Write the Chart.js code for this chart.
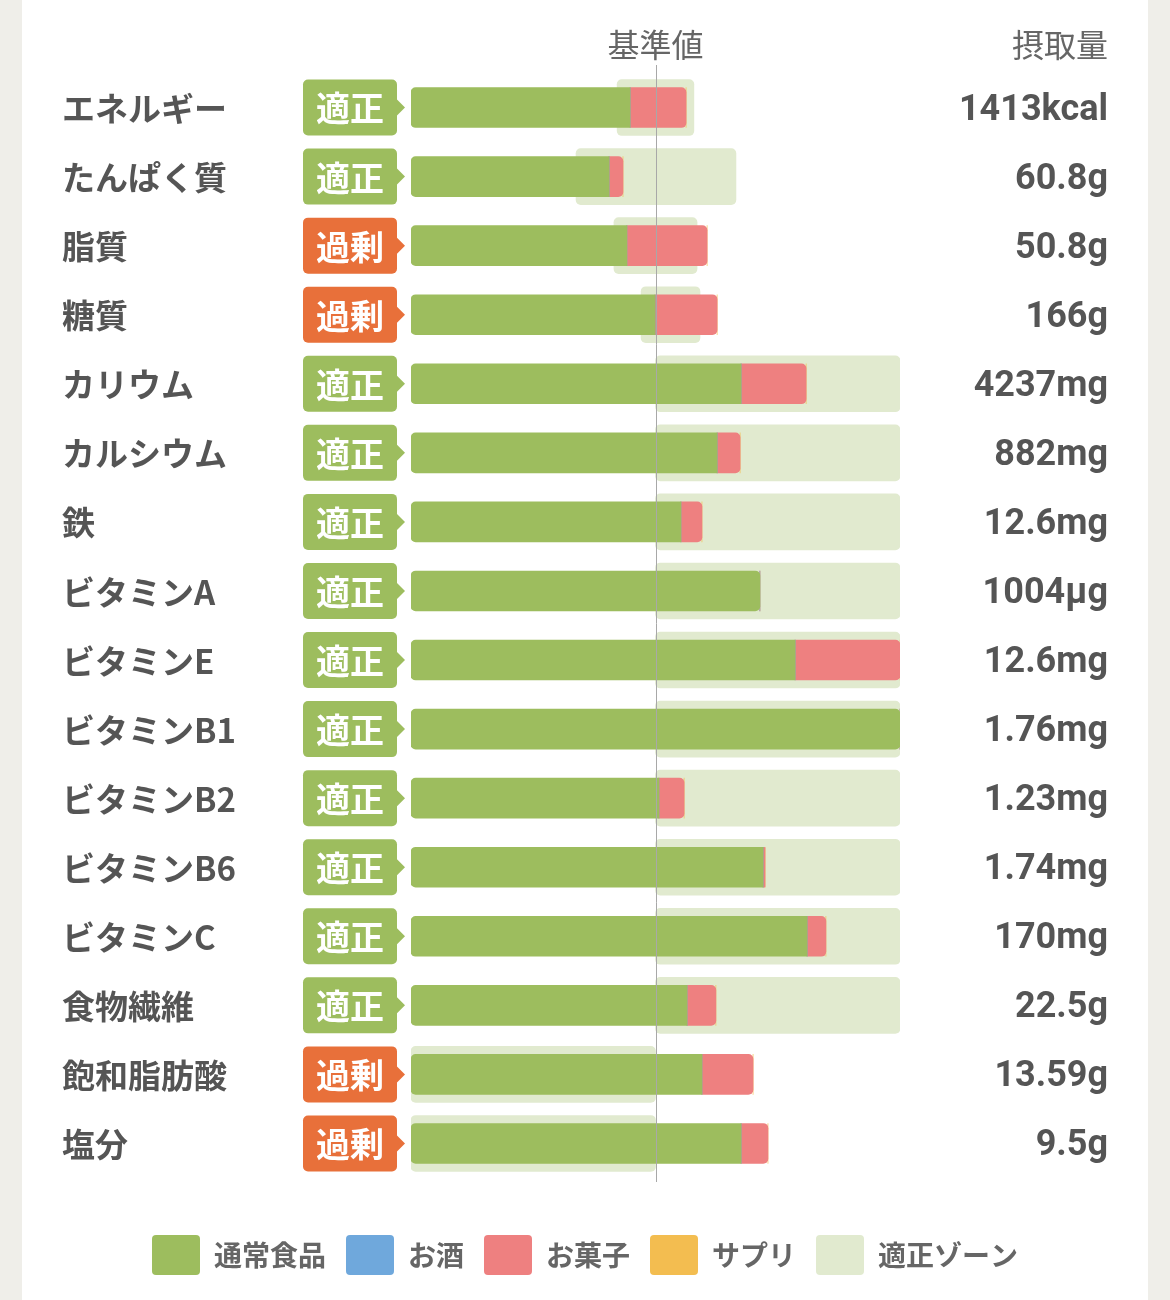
<!DOCTYPE html>
<html lang="ja">
<head>
<meta charset="utf-8">
<script src="https://cdn.jsdelivr.net/npm/chart.js@4.4.1/dist/chart.umd.min.js"></script>
<style>
html, body { margin: 0; padding: 0; background: #efeee9; }
#card { position: absolute; left: 22px; top: 0; width: 1126px; height: 1300px; background: #fff; }
#wrap { position: absolute; left: 0; top: 0; width: 1170px; height: 1300px; }
</style>
</head>
<body>
<div id="card"></div>
<div id="wrap"><canvas id="nutritionChart" width="1170" height="1300"></canvas></div>
<script>
const categories = ['エネルギー', 'たんぱく質', '脂質', '糖質', 'カリウム', 'カルシウム', '鉄', 'ビタミンA',
    'ビタミンE', 'ビタミンB1', 'ビタミンB2', 'ビタミンB6', 'ビタミンC', '食物繊維', '飽和脂肪酸', '塩分'];
const status = ['適正', '適正', '過剰', '過剰', '適正', '適正', '適正', '適正',
    '適正', '適正', '適正', '適正', '適正', '適正', '過剰', '過剰'];
const intake = ['1413kcal', '60.8g', '50.8g', '166g', '4237mg', '882mg', '12.6mg', '1004µg',
    '12.6mg', '1.76mg', '1.23mg', '1.74mg', '170mg', '22.5g', '13.59g', '9.5g'];

// % of the reference value (基準値 = 100)
const normalFood = [89.6, 81.0, 88.3, 99.8, 135.0, 125.2, 110.4, 142.7, 157.1, 200, 101.4, 144.0, 162.0, 112.9, 119.0, 135.0];
const alcohol = [0, 0, 0, 0, 0, 0, 0, 0, 0, 0, 0, 0, 0, 0, 0, 0];
const sweets = [22.9, 5.7, 32.8, 25.4, 26.6, 9.4, 8.6, 0, 42.9, 0, 10.3, 0.8, 7.7, 11.8, 20.9, 11.0];
const supplements = [0, 0, 0, 0, 0, 0, 0, 0, 0, 0, 0, 0, 0, 0, 0, 0];
const zoneMin = [84.3, 67.5, 83.0, 94.1, 100, 100, 100, 100, 100, 100, 100, 100, 100, 100, 0, 0];
const zoneMax = [115.7, 132.9, 117.0, 118.2, 200, 200, 200, 200, 200, 200, 200, 200, 200, 200, 100, 100];

const FONT = "'Noto Sans CJK JP', 'Noto Sans', sans-serif";
const TEXT = '#555555';

Chart.defaults.font.family = FONT;

const annotations = {
    id: 'annotations',
    afterDatasetsDraw(chart) {
        const { ctx, chartArea } = chart;
        const x = Math.round(chart.scales.x.getPixelForValue(100)) + 0.5;
        ctx.save();
        ctx.strokeStyle = '#a8a8a8';
        ctx.lineWidth = 1;
        ctx.beginPath();
        ctx.moveTo(x, chartArea.top - 8);
        ctx.lineTo(x, chartArea.bottom + 4);
        ctx.stroke();
        ctx.restore();
    },
    afterDraw(chart) {
        const { ctx } = chart;
        const yScale = chart.scales.y;
        const xRef = chart.scales.x.getPixelForValue(100);
        ctx.save();
        // column headers
        ctx.fillStyle = '#666666';
        ctx.font = '400 32px ' + FONT;
        ctx.textBaseline = 'middle';
        ctx.textAlign = 'center';
        ctx.fillText('基準値', xRef, 45);
        ctx.textAlign = 'right';
        ctx.fillText('摂取量', chart.scales.yRight.right, 45);

        // status badges
        categories.forEach((c, i) => {
            const cy = yScale.getPixelForValue(i);
            const left = 303, right = 397, h = 56;
            ctx.fillStyle = status[i] === '過剰' ? '#e8703a' : '#9dbd5e';
            ctx.beginPath();
            ctx.roundRect(left, cy - h / 2, right - left, h, 5);
            ctx.fill();
            ctx.beginPath();
            ctx.moveTo(right - 1, cy - 9);
            ctx.lineTo(right + 8, cy);
            ctx.lineTo(right - 1, cy + 9);
            ctx.closePath();
            ctx.fill();
            ctx.fillStyle = '#ffffff';
            ctx.font = '700 34px ' + FONT;
            ctx.textAlign = 'center';
            ctx.fillText(status[i], (left + right) / 2, cy + 1);
        });
        ctx.restore();
    }
};

const intakeBar = { barThickness: 40, maxBarThickness: 40, grouped: false, stack: 'intake', order: 1 };

const ctx = document.getElementById('nutritionChart').getContext('2d');
const nutritionChart = new Chart(ctx, {
    type: 'bar',
    data: {
        labels: categories,
        datasets: [
            {
                ...intakeBar,
                label: '通常食品',
                data: normalFood,
                backgroundColor: '#9dbd5e',
                borderSkipped: false,
                borderRadius: c => sweets[c.dataIndex] > 0
                    ? { topLeft: 5, bottomLeft: 5, topRight: 0, bottomRight: 0 } : 5
            },
            {
                ...intakeBar,
                label: 'お酒',
                data: alcohol,
                backgroundColor: '#6fa8dc'
            },
            {
                ...intakeBar,
                label: 'お菓子',
                data: sweets,
                backgroundColor: '#ee8080',
                borderSkipped: false,
                borderRadius: { topLeft: 0, bottomLeft: 0, topRight: 5, bottomRight: 5 }
            },
            {
                ...intakeBar,
                label: 'サプリ',
                data: supplements,
                backgroundColor: '#f3bd50'
            },
            {
                label: '適正ゾーン',
                data: zoneMin.map((v, i) => [v, zoneMax[i]]),
                backgroundColor: '#e1eacf',
                borderSkipped: false,
                borderRadius: 5,
                barThickness: 56,
                maxBarThickness: 56,
                grouped: false,
                stack: 'zone',
                order: 2
            }
        ]
    },
    options: {
        indexAxis: 'y',
        responsive: false,
        animation: false,
        devicePixelRatio: 1,
        layout: { padding: { left: 62, right: 62, top: 73, bottom: 15 } },
        scales: {
            x: {
                stacked: true,
                min: 0,
                max: 200,
                grid: { display: false },
                border: { display: false },
                ticks: { display: false },
                afterFit(scale) { scale.height = 37; }
            },
            y: {
                position: 'left',
                stacked: true,
                grid: { display: false },
                border: { display: false },
                ticks: {
                    crossAlign: 'far',
                    color: TEXT,
                    labelOffset: 1,
                    font: { size: 33, weight: '700' }
                },
                afterFit(scale) { scale.width = 349; }
            },
            yRight: {
                type: 'category',
                position: 'right',
                labels: intake,
                offset: true,
                grid: { display: false },
                border: { display: false },
                ticks: {
                    crossAlign: 'far',
                    color: TEXT,
                    labelOffset: 3,
                    font: { family: "Roboto, 'Noto Sans', sans-serif", size: 36, weight: '700' }
                },
                afterFit(scale) { scale.width = 208; }
            }
        },
        plugins: {
            tooltip: { enabled: false },
            legend: {
                position: 'bottom',
                labels: {
                    boxWidth: 48,
                    boxHeight: 40,
                    useBorderRadius: true,
                    borderRadius: 4,
                    padding: 20,
                    color: '#666666',
                    font: { size: 28, weight: '700' }
                }
            }
        }
    },
    plugins: [annotations]
});
</script>
</body>
</html>
